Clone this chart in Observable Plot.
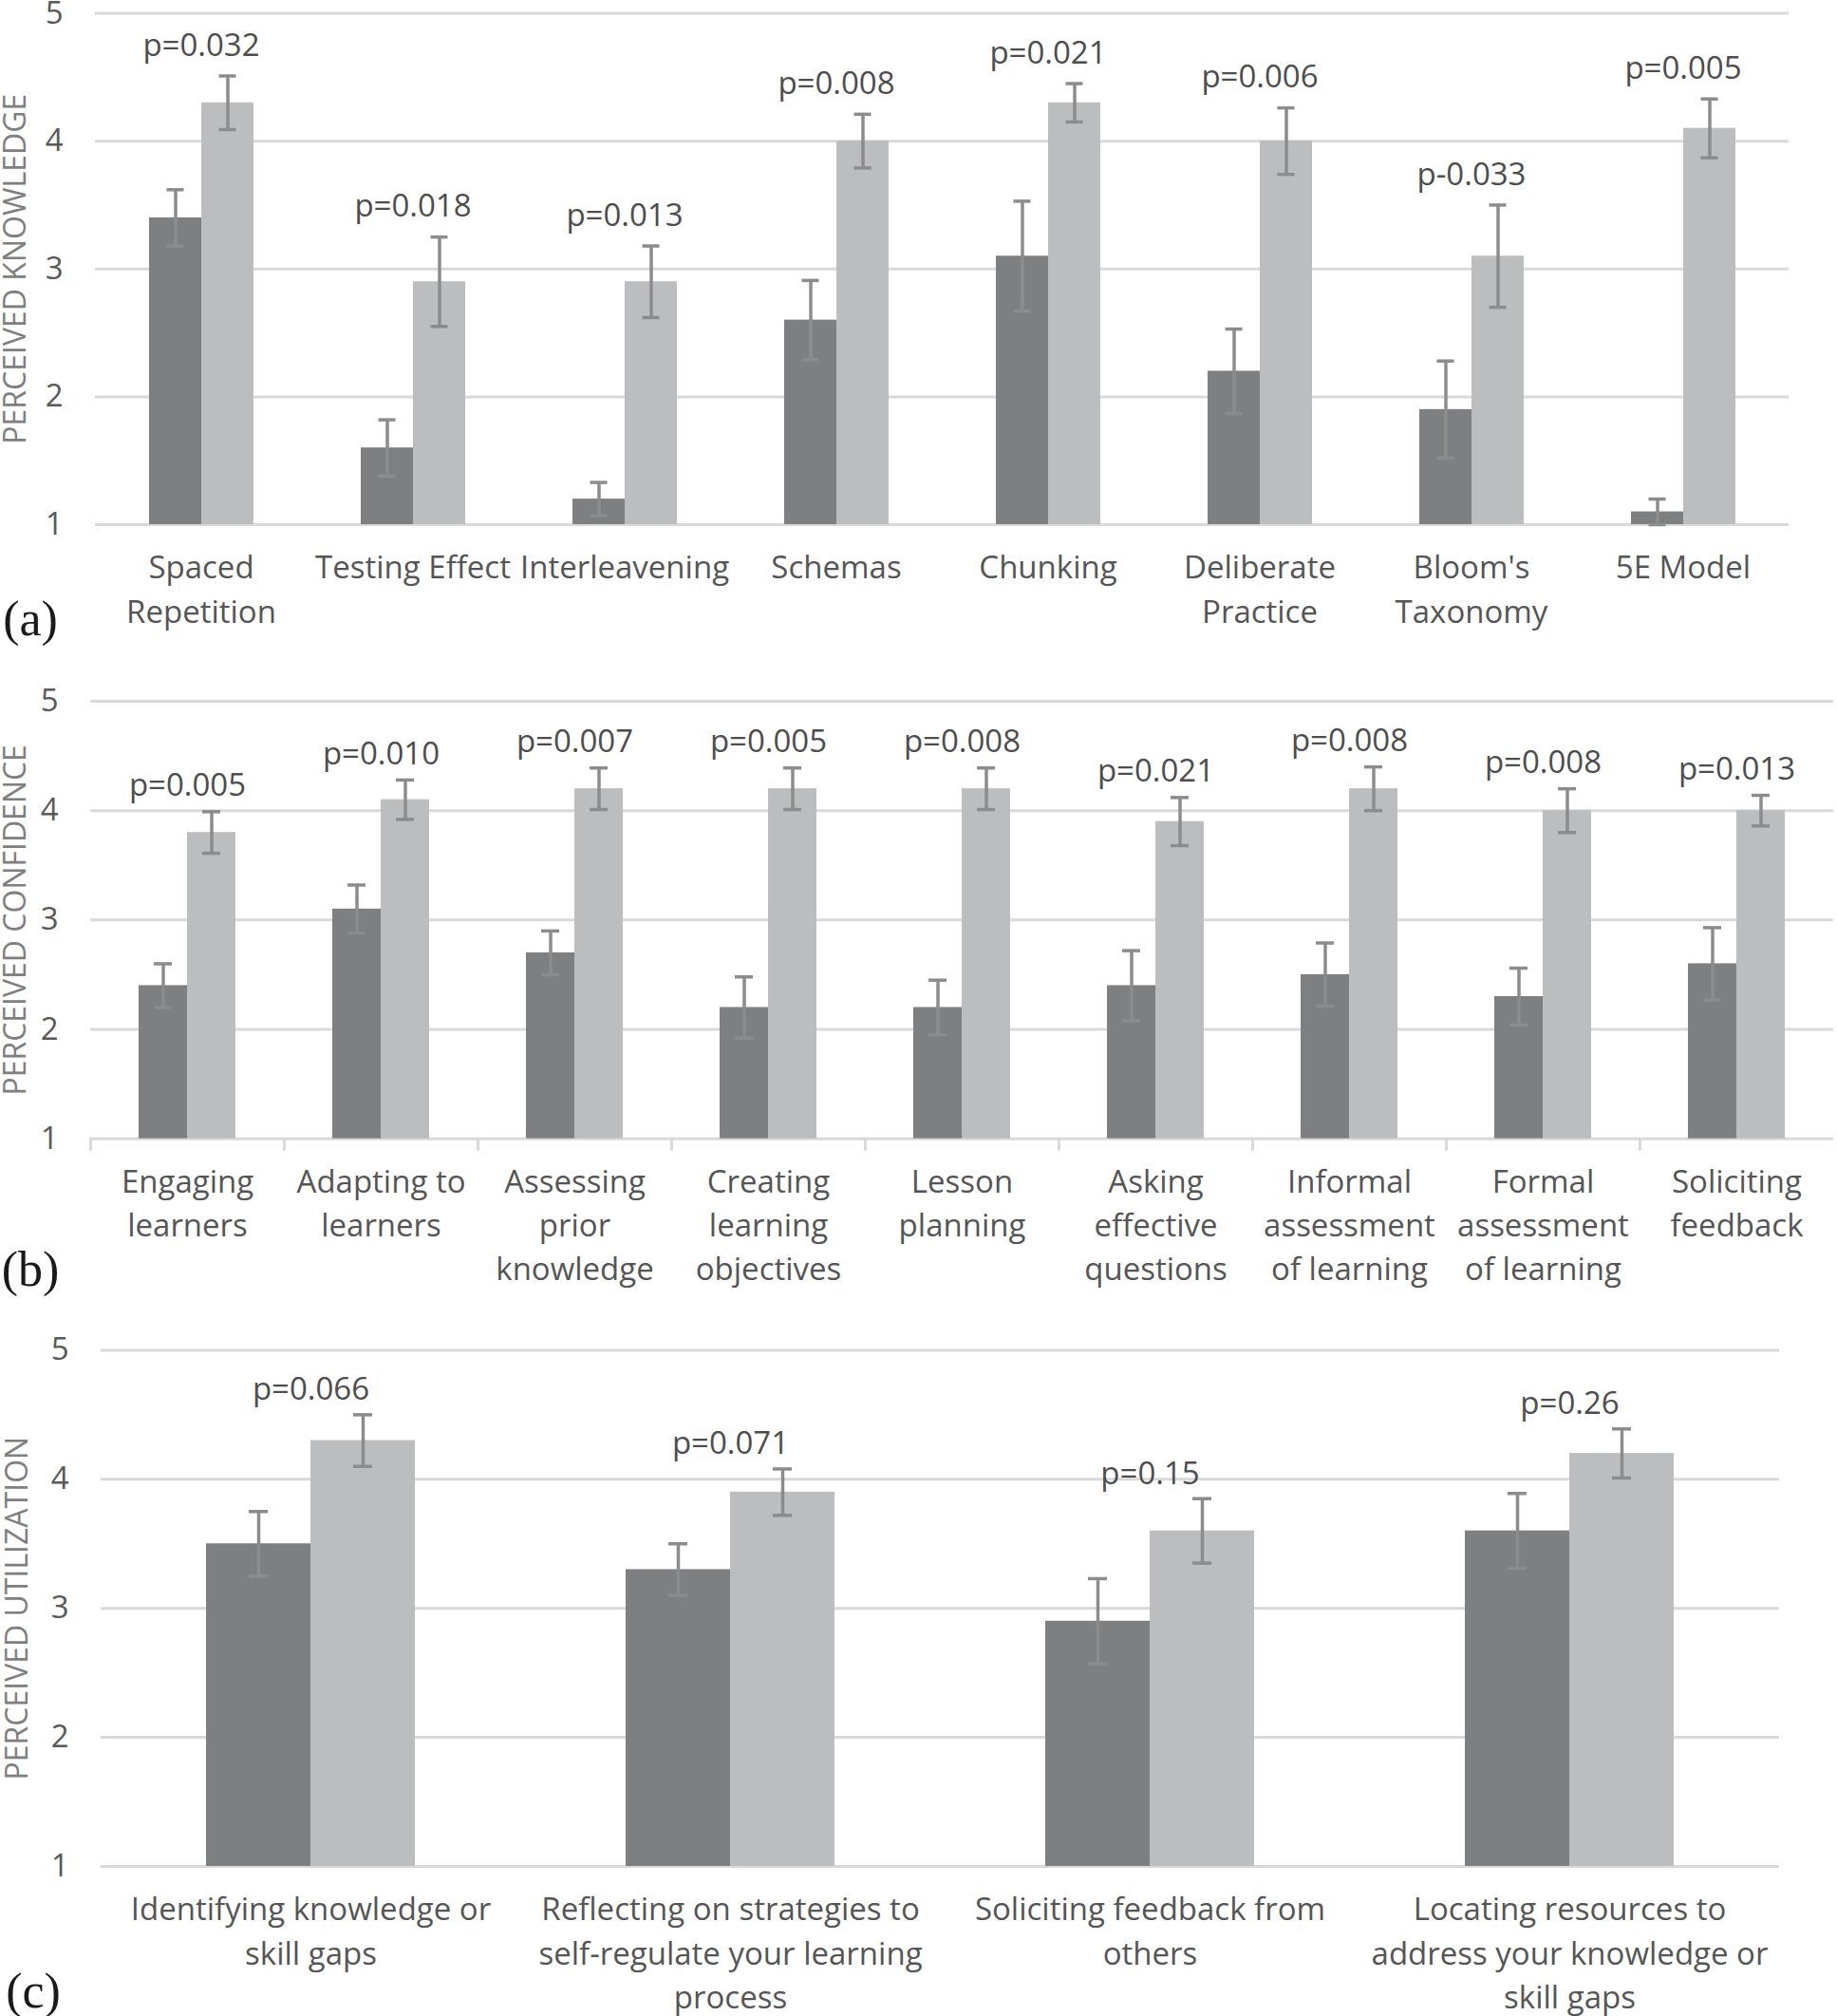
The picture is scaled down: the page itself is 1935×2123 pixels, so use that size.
<!DOCTYPE html>
<html>
<head>
<meta charset="utf-8">
<script src="https://cdn.jsdelivr.net/npm/d3@7"></script>
<script src="https://cdn.jsdelivr.net/npm/@observablehq/plot@0.6"></script>
<style>
  html, body { margin: 0; padding: 0; background: #fff; }
  #page { position: relative; width: 1935px; height: 2123px; overflow: hidden; background: #fff; }
  .panel { position: absolute; left: 0; }
  .tag { position: absolute; font-family: "Liberation Serif", "DejaVu Serif", serif; font-size: 52px; color: #1a1a1a; line-height: 1; transform: translate(-50%, -50%); }
  svg { overflow: visible; }
</style>
</head>
<body>
<div id="page"></div>
<script>
// ---------- Panel (a): perceived knowledge ----------
const catsA = ["Spaced\nRepetition", "Testing Effect", "Interleavening", "Schemas", "Chunking", "Deliberate\nPractice", "Bloom's\nTaxonomy", "5E Model"];
const preA = [3.4, 1.6, 1.2, 2.6, 3.1, 2.2, 1.9, 1.1];
const preErrA = [0.22, 0.22, 0.13, 0.31, 0.43, 0.33, 0.38, 0.10];
const postA = [4.3, 2.9, 2.9, 4.0, 4.3, 4.0, 3.1, 4.1];
const postErrA = [0.21, 0.35, 0.28, 0.21, 0.15, 0.26, 0.40, 0.23];
const pA = ["p=0.032", "p=0.018", "p=0.013", "p=0.008", "p=0.021", "p=0.006", "p-0.033", "p=0.005"];

// ---------- Panel (b): perceived confidence ----------
const catsB = ["Engaging\nlearners", "Adapting to\nlearners", "Assessing\nprior\nknowledge", "Creating\nlearning\nobjectives", "Lesson\nplanning", "Asking\neffective\nquestions", "Informal\nassessment\nof learning", "Formal\nassessment\nof learning", "Soliciting\nfeedback"];
const preB = [2.4, 3.1, 2.7, 2.2, 2.2, 2.4, 2.5, 2.3, 2.6];
const preErrB = [0.20, 0.22, 0.20, 0.28, 0.25, 0.32, 0.29, 0.26, 0.33];
const postB = [3.8, 4.1, 4.2, 4.2, 4.2, 3.9, 4.2, 4.0, 4.0];
const postErrB = [0.19, 0.18, 0.19, 0.19, 0.19, 0.22, 0.20, 0.20, 0.14];
const pB = ["p=0.005", "p=0.010", "p=0.007", "p=0.005", "p=0.008", "p=0.021", "p=0.008", "p=0.008", "p=0.013"];

// ---------- Panel (c): perceived utilization ----------
const catsC = ["Identifying knowledge or\nskill gaps", "Reflecting on strategies to\nself-regulate your learning\nprocess", "Soliciting feedback from\nothers", "Locating resources to\naddress your knowledge or\nskill gaps"];
const preC = [3.5, 3.3, 2.9, 3.6];
const preErrC = [0.25, 0.20, 0.33, 0.29];
const postC = [4.3, 3.9, 3.6, 4.2];
const postErrC = [0.20, 0.18, 0.25, 0.19];
const pC = ["p=0.066", "p=0.071", "p=0.15", "p=0.26"];

const yTicks = [1, 2, 3, 4, 5];
const seriesNames = ["pre", "post"];

const page = document.getElementById("page");
const FONT = "'Open Sans', 'Noto Sans', Lato, sans-serif";

function panel(cfg, cats, pre, preErr, post, postErr, pvals, title) {
  const rows = cats.flatMap((c, i) => [
    {category: c, series: "pre", value: pre[i], err: preErr[i]},
    {category: c, series: "post", value: post[i], err: postErr[i]}
  ]);
  const labels = cats.map((c, i) => ({category: c, text: pvals[i], y: post[i] + postErr[i]}));
  const plotH = cfg.height - cfg.marginTop - cfg.marginBottom;
  const marks = [
    Plot.gridY(yTicks, {stroke: "#d9d9d9", strokeOpacity: 1, strokeWidth: 3}),
    Plot.barY(rows, {fx: "category", x: "series", y1: () => 1, y2: "value", fill: "series"}),
    Plot.ruleX(rows, {fx: "category", x: "series", y1: d => d.value - d.err, y2: d => d.value + d.err, stroke: "#8c8c8c", strokeWidth: 3.5}),
    Plot.tickY(rows, {fx: "category", x: "series", y: d => d.value + d.err, stroke: "#8c8c8c", strokeWidth: 3.5, insetLeft: cfg.capInset, insetRight: cfg.capInset}),
    Plot.tickY(rows, {fx: "category", x: "series", y: d => d.value - d.err, stroke: "#8c8c8c", strokeWidth: 3.5, insetLeft: cfg.capInset, insetRight: cfg.capInset}),
    Plot.text(labels, {fx: "category", y: "y", text: "text", dy: -cfg.pDy, fontSize: 33, fill: "#4d4d4d"}),
    Plot.axisY({ticks: yTicks, tickFormat: d => String(d), tickSize: 0, tickPadding: 34, fontSize: 33, fill: "#595959", label: null}),
    Plot.axisFx({anchor: "bottom", tickSize: 0, tickPadding: cfg.labelPad, fontSize: 33, lineHeight: 1.4, fill: "#555555", label: null}),
    Plot.text([title], {fx: () => cats[0], frameAnchor: "left", textAnchor: "middle", rotate: -90, dx: cfg.titleDx, fontSize: 32, fill: "#7f7f7f", text: d => d})
  ];
  if (cfg.bandTicks) {
    marks.push(Plot.frame({anchor: "left", insetTop: plotH, insetBottom: -11, stroke: "#d9d9d9", strokeWidth: 3}));
  }
  const svg = Plot.plot({
    width: 1935,
    height: cfg.height,
    marginTop: cfg.marginTop,
    marginBottom: cfg.marginBottom,
    marginLeft: cfg.marginLeft,
    marginRight: cfg.marginRight,
    style: {fontFamily: FONT, fontSize: "33px", color: "#595959", background: "transparent"},
    fx: {domain: cats, padding: 0, label: null},
    x: {domain: seriesNames, paddingInner: 0, paddingOuter: 1, axis: null},
    y: {domain: [1, 5], axis: null},
    color: {domain: seriesNames, range: ["#7e7f81", "#bcbdbf"]},
    marks
  });
  const wrap = document.createElement("div");
  wrap.className = "panel";
  wrap.style.top = cfg.top + "px";
  wrap.appendChild(svg);
  page.appendChild(wrap);
  const tag = document.createElement("div");
  tag.className = "tag";
  tag.textContent = cfg.tag;
  tag.style.left = cfg.tagX + "px";
  tag.style.top = cfg.tagY + "px";
  page.appendChild(tag);
}

panel({top: 0, height: 682, marginTop: 13.5, marginBottom: 130, marginLeft: 97, marginRight: 48,
       capInset: 18.5, pDy: 32, titleDx: -84, labelPad: 24, bandTicks: false, tag: "(a)", tagX: 32, tagY: 652},
      catsA, preA, preErrA, postA, postErrA, pA, "PERCEIVED KNOWLEDGE");

panel({top: 690, height: 678.7, marginTop: 48, marginBottom: 170, marginLeft: 92, marginRight: 1,
       capInset: 16, pDy: 27, titleDx: -79, labelPad: 24, bandTicks: true, tag: "(b)", tagX: 32, tagY: 1337},
      catsB, preB, preErrB, postB, postErrB, pB, "PERCEIVED CONFIDENCE");

panel({top: 1380, height: 743, marginTop: 41.4, marginBottom: 158, marginLeft: 105, marginRight: 60,
       capInset: 45, pDy: 26, titleDx: -88, labelPad: 24, bandTicks: false, tag: "(c)", tagX: 35, tagY: 2097},
      catsC, preC, preErrC, postC, postErrC, pC, "PERCEIVED UTILIZATION");
</script>
</body>
</html>
